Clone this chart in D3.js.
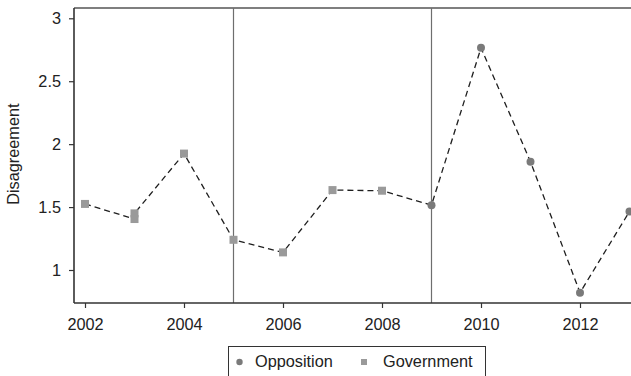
<!DOCTYPE html>
<html>
<head>
<meta charset="utf-8">
<script src="https://cdn.jsdelivr.net/npm/d3@7"></script>
<style>
  html, body { margin: 0; padding: 0; background: #fff; }
  svg { display: block; }
  text { font-family: "Liberation Sans", Arial, Helvetica, sans-serif; fill: #222; }
</style>
</head>
<body>
<svg id="chart" width="631" height="376"></svg>
<script>
// Disagreement by year, coded by the party's role (government / opposition)
const years  = [2002, 2003, 2003, 2004, 2005, 2006, 2007, 2008, 2009, 2010, 2011, 2012, 2013];
const values = [1.525, 1.405, 1.45, 1.925, 1.24, 1.14, 1.635, 1.63, 1.515, 2.765, 1.86, 0.82, 1.465];
const roles  = ["Government", "Government", "Government", "Government", "Government", "Government",
                "Government", "Government", "Opposition", "Opposition", "Opposition", "Opposition", "Opposition"];
const electionYears = [2005, 2009];
const xTicks = [2002, 2004, 2006, 2008, 2010, 2012];
const yTicks = [1, 1.5, 2, 2.5, 3];
const yTickLabels = ["1", "1.5", "2", "2.5", "3"];
const legendLabels = ["Opposition", "Government"];

const data = years.map((y, i) => ({ year: y, value: values[i], role: roles[i] }));

const svg = d3.select("#chart");
const plot = { left: 74, top: 8, right: 640, bottom: 303 };
const fontSize = 16.3;

const x = d3.scaleLinear().domain([2002, 2012]).range([85, 580]);
const y = d3.scaleLinear().domain([1, 3]).range([270, 18.3]);

const colors = { Opposition: "#7a7a7a", Government: "#9a9a9a" };

// top frame line
svg.append("line")
  .attr("x1", plot.left).attr("x2", plot.right)
  .attr("y1", plot.top).attr("y2", plot.top)
  .attr("stroke", "#555").attr("stroke-width", 1.4);

// election reference lines
svg.selectAll("line.ref").data(electionYears).join("line")
  .attr("class", "ref")
  .attr("x1", d => x(d)).attr("x2", d => x(d))
  .attr("y1", plot.top).attr("y2", plot.bottom)
  .attr("stroke", "#6e6e6e").attr("stroke-width", 1.2);

// x axis
const xAxis = svg.append("g")
  .attr("transform", `translate(0,${plot.bottom})`)
  .call(d3.axisBottom(x).tickValues(xTicks).tickFormat(d3.format("d")).tickSize(5).tickPadding(10));
xAxis.select(".domain").remove();
xAxis.append("line")
  .attr("x1", plot.left).attr("x2", plot.right)
  .attr("stroke", "#333").attr("stroke-width", 1.6);
xAxis.selectAll(".tick line").attr("stroke", "#333").attr("stroke-width", 1.2);
xAxis.selectAll(".tick text").attr("font-size", fontSize).attr("fill", "#222")
  .attr("font-family", "Liberation Sans, Arial, sans-serif");

// y axis
const yAxis = svg.append("g")
  .attr("transform", `translate(${plot.left},0)`)
  .call(d3.axisLeft(y).tickValues(yTicks).tickFormat((d, i) => yTickLabels[i]).tickSize(5).tickPadding(8));
yAxis.select(".domain").remove();
yAxis.append("line")
  .attr("y1", plot.top).attr("y2", plot.bottom)
  .attr("stroke", "#333").attr("stroke-width", 1.6);
yAxis.selectAll(".tick line").attr("stroke", "#333").attr("stroke-width", 1.2);
yAxis.selectAll(".tick text").attr("font-size", fontSize).attr("fill", "#222")
  .attr("font-family", "Liberation Sans, Arial, sans-serif");

// y axis title
svg.append("text")
  .attr("transform", `translate(19,${(y(1) + y(3)) / 2 + 10}) rotate(-90)`)
  .attr("text-anchor", "middle")
  .attr("font-size", fontSize)
  .text("Disagreement");

// dashed connecting line
const line = d3.line().x(d => x(d.year)).y(d => y(d.value));
svg.append("path")
  .datum(data)
  .attr("d", line)
  .attr("fill", "none")
  .attr("stroke", "#1e1e1e")
  .attr("stroke-width", 1.3)
  .attr("stroke-dasharray", "6,4");

// markers
const sq = 8;
svg.selectAll("rect.gov").data(data.filter(d => d.role === "Government")).join("rect")
  .attr("class", "gov")
  .attr("x", d => x(d.year) - sq / 2).attr("y", d => y(d.value) - sq / 2)
  .attr("width", sq).attr("height", sq)
  .attr("fill", colors.Government);
svg.selectAll("circle.opp").data(data.filter(d => d.role === "Opposition")).join("circle")
  .attr("class", "opp")
  .attr("cx", d => x(d.year)).attr("cy", d => y(d.value))
  .attr("r", 4)
  .attr("fill", colors.Opposition);

// legend
const legend = svg.append("g");
legend.append("rect")
  .attr("x", 228.5).attr("y", 346.5).attr("width", 257).attr("height", 40)
  .attr("fill", "#fff").attr("stroke", "#333").attr("stroke-width", 1);
legend.append("circle").attr("cx", 239.5).attr("cy", 362).attr("r", 3.2).attr("fill", colors.Opposition);
legend.append("text").attr("x", 255).attr("y", 367).attr("font-size", fontSize).text(legendLabels[0]);
legend.append("rect").attr("x", 361).attr("y", 359).attr("width", 6).attr("height", 6).attr("fill", colors.Government);
legend.append("text").attr("x", 383).attr("y", 367).attr("font-size", fontSize).text(legendLabels[1]);
</script>
</body>
</html>
